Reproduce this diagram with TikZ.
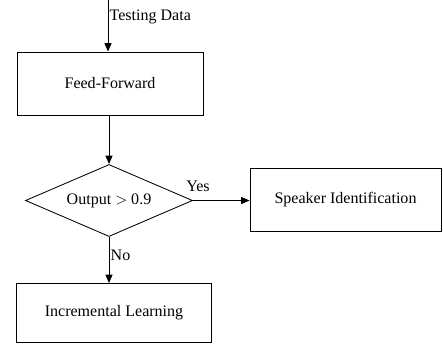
\documentclass[tikz,border=0pt]{standalone}
\usepackage{fontspec}
\setmainfont{Liberation Serif}
\usetikzlibrary{shapes,arrows.meta,positioning}

\tikzset{
    block/.style={draw, line width=0.6pt, inner sep=0pt, minimum height=1.575cm, font=\fontsize{11.4}{13}\selectfont},
    decision/.style={draw, diamond, aspect=2.32, line width=0.6pt, inner sep=0pt, minimum width=4.175cm, minimum height=1.8cm, font=\fontsize{11.4}{13}\selectfont},
    flow/.style={line width=0.6pt, -{Triangle[length=6pt,width=5pt]}},
    lbl/.style={font=\fontsize{11.4}{13}\selectfont, inner sep=1pt}
}

\begin{document}
\begin{tikzpicture}[x=0.025cm, y=-0.025cm]
    \useasboundingbox (0,0) rectangle (443,344);

    % Boxes
    \node [block, minimum width=4.65cm] (ff) at (110,83.5) {Feed-Forward};
    \node [decision] (dec) at (109,200.5) {Output $>$ 0.9};
    \node [block, minimum width=4.775cm] (spk) at (345.5,199.5) {Speaker Identification};
    \node [block, minimum width=4.875cm, minimum height=1.475cm] (inc) at (114,313) {Incremental Learning};

    % Input
    \coordinate (in) at (108,0);
    \draw [flow] (in) -- (in |- ff.north);
    \node [lbl, anchor=west] (tdata) at (108,17) {Testing Data};

    % Connections
    \draw [flow] (dec.north |- ff.south) -- (dec.north);
    \draw [flow] (dec.east) -- (dec.east -| spk.west);
    \node [lbl, anchor=south] (yes) at (198,193) {Yes};
    \draw [flow] (dec.south) -- (dec.south |- inc.north);
    \node [lbl, anchor=west] (no) at (109,255) {No};
\end{tikzpicture}
\end{document}
